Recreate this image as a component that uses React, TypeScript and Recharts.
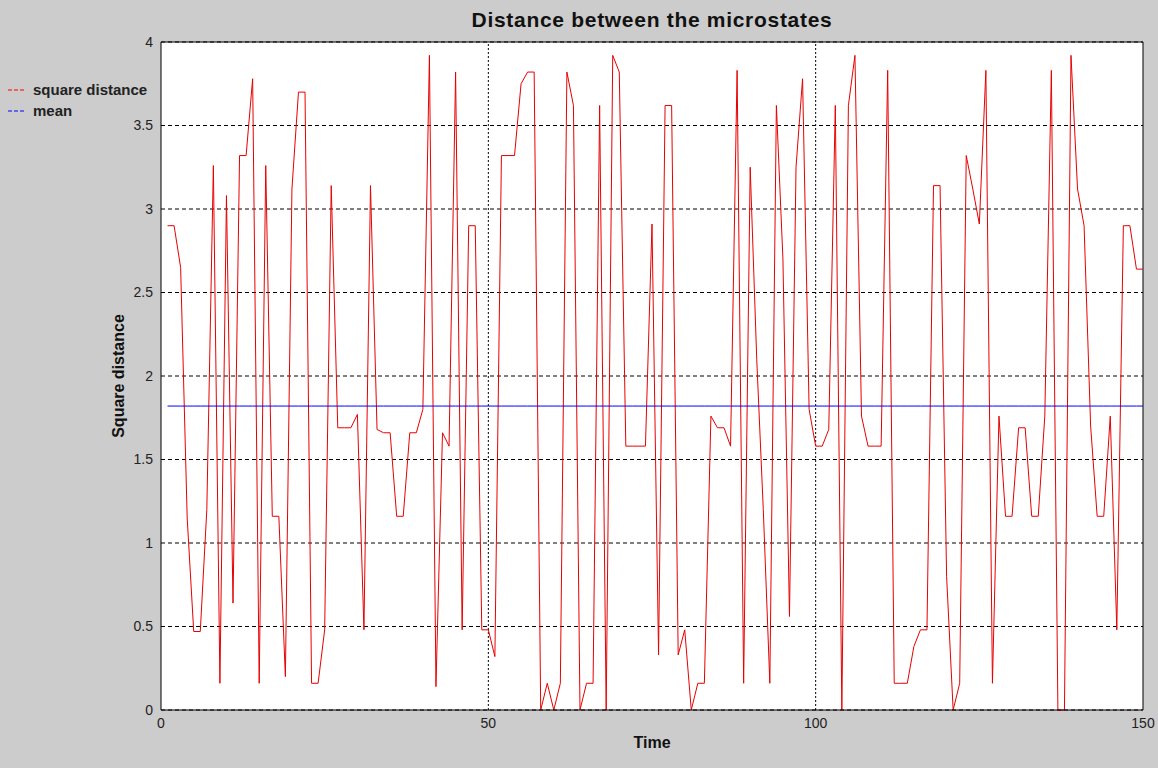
import {
  LineChart,
  Line,
  XAxis,
  YAxis,
  CartesianGrid,
  ReferenceLine,
  Legend,
} from "recharts";

// square distance between consecutive microstates, t = 1..150
const squareDistance = [
  2.9, 2.9, 2.65, 1.15, 0.47, 0.47, 1.2, 3.26, 0.16, 3.08,
  0.64, 3.32, 3.32, 3.78, 0.16, 3.26, 1.16, 1.16, 0.2, 3.12,
  3.7, 3.7, 0.16, 0.16, 0.48, 3.14, 1.69, 1.69, 1.69, 1.77,
  0.48, 3.14, 1.68, 1.66, 1.66, 1.16, 1.16, 1.66, 1.66, 1.8,
  3.92, 0.14, 1.66, 1.58, 3.82, 0.48, 2.9, 2.9, 0.48, 0.48,
  0.32, 3.32, 3.32, 3.32, 3.75, 3.82, 3.82, 0, 0.16, 0,
  0.16, 3.82, 3.62, 0, 0.16, 0.16, 3.62, 0, 3.92, 3.82,
  1.58, 1.58, 1.58, 1.58, 2.91, 0.33, 3.62, 3.62, 0.33, 0.48,
  0, 0.16, 0.16, 1.76, 1.69, 1.69, 1.58, 3.83, 0.16, 3.25,
  2.1, 1.2, 0.16, 3.62, 2.7, 0.56, 3.25, 3.78, 1.8, 1.58,
  1.58, 1.68, 3.62, 0, 3.62, 3.92, 1.76, 1.58, 1.58, 1.58,
  3.83, 0.16, 0.16, 0.16, 0.38, 0.48, 0.48, 3.14, 3.14, 0.8,
  0, 0.16, 3.32, 3.12, 2.91, 3.83, 0.16, 1.76, 1.16, 1.16,
  1.69, 1.69, 1.16, 1.16, 1.76, 3.83, 0, 0, 3.92, 3.12,
  2.9, 1.7, 1.16, 1.16, 1.76, 0.48, 2.9, 2.9, 2.64, 2.64,
];
const meanValue = 1.82;

const xTicks = [0, 50, 100, 150];
const yTicks = [0, 0.5, 1, 1.5, 2, 2.5, 3, 3.5, 4];
const xGrid = [50, 100];

const rows = squareDistance.map((d, i) => ({ t: i + 1, dist: d, mean: meanValue }));

const legendItems = [
  { label: "square distance", color: "#ff0000" },
  { label: "mean", color: "#0000ff" },
];

function LegendBox() {
  return (
    <div>
      {legendItems.map((it) => (
        <div key={it.label} style={{ display: "flex", alignItems: "center", height: 21 }}>
          <svg width={22} height={6} style={{ marginRight: 5 }}>
            <line x1={2} y1={3} x2={20} y2={3} stroke={it.color} strokeWidth={1} strokeDasharray="4 2" />
          </svg>
          <span style={{ fontWeight: "bold", fontSize: 15, color: "#222" }}>{it.label}</span>
        </div>
      ))}
    </div>
  );
}

export default function App() {
  return (
    <div
      style={{
        position: "absolute",
        left: 0,
        top: 0,
        width: 1158,
        height: 768,
        background: "#cccccc",
        fontFamily: "'Liberation Sans', Arial, sans-serif",
      }}
    >
      <div
        style={{
          position: "absolute",
          left: 161,
          width: 982,
          top: 8,
          textAlign: "center",
          fontSize: 21,
          fontWeight: "bold",
          letterSpacing: 0.7,
          color: "#111",
        }}
      >
        Distance between the microstates
      </div>
      <LineChart width={1158} height={768} data={rows} margin={{ top: 42, right: 15, bottom: 18, left: 111 }}>
        <CartesianGrid vertical={false} fill="#ffffff" stroke="#000" strokeDasharray="4 3" />
        {xGrid.map((x) => (
          <ReferenceLine key={x} x={x} stroke="#000" strokeDasharray="2 2" />
        ))}
        <ReferenceLine y={4} stroke="#000" />
        <ReferenceLine x={150} stroke="#000" />
        <XAxis
          type="number"
          dataKey="t"
          domain={[0, 150]}
          ticks={xTicks}
          height={40}
          tickLine={false}
          axisLine={{ stroke: "#000" }}
          tick={{ fontSize: 14, fill: "#222" }}
          label={{ value: "Time", position: "insideBottom", offset: 2, fontSize: 16, fontWeight: "bold", fill: "#111" }}
        />
        <YAxis
          type="number"
          domain={[0, 4]}
          ticks={yTicks}
          width={50}
          tickLine={false}
          axisLine={{ stroke: "#000" }}
          tick={{ fontSize: 14, fill: "#222" }}
          label={{ value: "Square distance", angle: -90, position: "center", dx: -18, fontSize: 16, fontWeight: "bold", fill: "#111" }}
        />
        <Legend
          layout="horizontal"
          align="center"
          verticalAlign="middle"
          content={() => <LegendBox />}
          wrapperStyle={{ left: 6, top: 79, width: 160, height: 44 }}
        />
        <Line
          type="linear"
          dataKey="dist"
          name="square distance"
          stroke="#e80000"
          strokeWidth={1}
          dot={false}
          isAnimationActive={false}
        />
        <Line
          type="linear"
          dataKey="mean"
          name="mean"
          stroke="#0000ff"
          strokeWidth={1}
          dot={false}
          isAnimationActive={false}
        />
      </LineChart>
    </div>
  );
}
